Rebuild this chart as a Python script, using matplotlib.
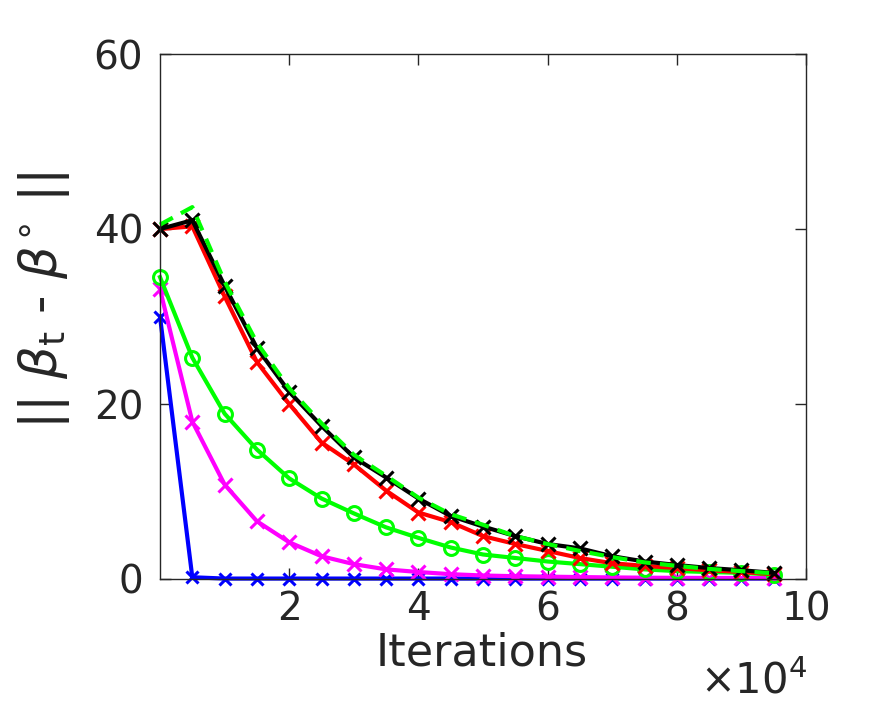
import numpy as np
import matplotlib.pyplot as plt

# iterations (axis shows them in units of 1e4)
iters = np.arange(0, 100000, 5000)

blue = [30.0, 0.2, 0.05, 0.05, 0.05, 0.05, 0.05, 0.05, 0.05, 0.05,
        0.05, 0.05, 0.05, 0.05, 0.05, 0.05, 0.05, 0.05, 0.05, 0.05]
magenta = [33.1, 18.0, 10.8, 6.6, 4.2, 2.6, 1.7, 1.1, 0.8, 0.55,
           0.4, 0.32, 0.27, 0.22, 0.18, 0.15, 0.13, 0.12, 0.11, 0.1]
green = [34.5, 25.3, 18.9, 14.8, 11.5, 9.2, 7.5, 5.9, 4.7, 3.6,
         2.8, 2.4, 2.0, 1.7, 1.4, 1.1, 0.9, 0.8, 0.7, 0.5]
red = [40.0, 40.3, 32.3, 24.8, 20.0, 15.6, 13.1, 10.1, 7.6, 6.5,
       4.9, 4.0, 3.2, 2.4, 1.8, 1.5, 1.25, 1.0, 0.8, 0.55]
black = [40.0, 41.0, 33.5, 26.4, 21.4, 17.5, 13.9, 11.6, 9.2, 7.2,
         6.0, 4.9, 4.0, 3.5, 2.6, 2.0, 1.6, 1.25, 1.0, 0.7]
green_dash = [40.5, 42.5, 34.0, 27.0, 21.8, 17.8, 14.2, 11.8, 9.3, 7.4,
              6.2, 4.9, 4.0, 3.2, 2.5, 1.9, 1.5, 1.15, 0.9, 0.65]

W, H = 891, 703
fig = plt.figure(figsize=(W/100, H/100), dpi=100)
# axes box: x 160..806, y 54..579 (pixels)
ax = fig.add_axes([160/W, (H-579)/H, 646/W, 525/H])

lw = 3.0
ax.plot(iters, blue, '-x', color=(0, 0, 1), lw=lw, ms=9, mew=2.2, clip_on=False)
ax.plot(iters, magenta, '-x', color=(1, 0, 1), lw=lw, ms=10, mew=2.2, clip_on=False)
ax.plot(iters, green, '-o', color=(0, 1, 0), lw=lw, ms=10, mew=2.2, mfc='none', clip_on=False)
ax.plot(iters, red, '-x', color=(1, 0, 0), lw=lw, ms=10, mew=2.2, clip_on=False)
ax.plot(iters, black, '-x', color='k', lw=lw, ms=10, mew=2.2, clip_on=False)
ax.plot(iters, green_dash, '--', color=(0, 1, 0), lw=lw, dashes=(3.5, 2.2), clip_on=False)

ax.set_xlim(0, 100000)
ax.set_ylim(0, 60)
ax.set_xticks([20000, 40000, 60000, 80000, 100000])
ax.set_xticklabels(['2', '4', '6', '8', '10'])
ax.set_yticks([0, 20, 40, 60])

axcol = (0.15, 0.15, 0.15)
for s in ax.spines.values():
    s.set_color(axcol)
    s.set_linewidth(1.0)
ax.tick_params(direction='in', length=8, width=1.0, colors=axcol,
               labelsize=28, top=True, right=True)
ax.tick_params(axis='x', pad=8)
ax.tick_params(axis='y', pad=12)

ax.set_xlabel('Iterations', fontsize=32, color=axcol)
ax.xaxis.set_label_coords((482-160)/646, -(632-579)/525)
ax.set_ylabel(r'|| $\beta_{\mathrm{t}}$ - $\beta^{\circ}$ ||', fontsize=37, color=axcol)
ax.yaxis.set_label_coords((72-160)/646, 0.53)

fig.text(700/W, 1 - 693/H, r'$\times\mathregular{10^4}$', fontsize=30,
         color=axcol, va='baseline', ha='left')

fig.savefig('out.png', dpi=100)
